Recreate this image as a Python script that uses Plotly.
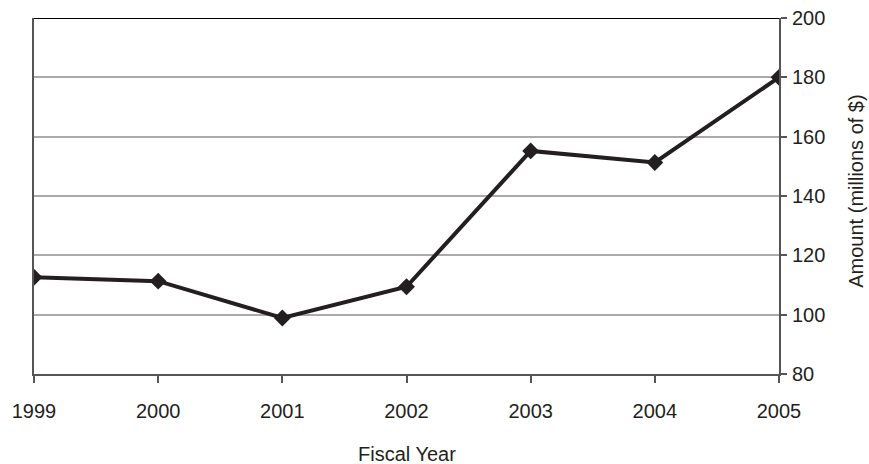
import plotly.graph_objects as go

# Fiscal-year spending, millions of dollars
years = ["1999", "2000", "2001", "2002", "2003", "2004", "2005"]
amounts = [112.6, 111.3, 98.9, 109.4, 155.2, 151.3, 180.0]
y_ticks = [80, 100, 120, 140, 160, 180, 200]

ink = "#231f20"
axis_col = "#555555"
fsize = 20

fig = go.Figure()
fig.add_trace(go.Scatter(
    x=list(range(len(years))),
    y=amounts,
    mode="lines+markers",
    line=dict(color=ink, width=4),
    marker=dict(symbol="diamond", size=13, color=ink),
    showlegend=False,
))

fig.update_layout(
    width=869, height=464,
    margin=dict(l=34, r=90, t=18, b=90),
    paper_bgcolor="white",
    plot_bgcolor="white",
    font=dict(family="Liberation Sans, Arial, sans-serif", size=fsize, color=ink),
    xaxis=dict(
        range=[0, len(years) - 1],
        tickmode="array",
        tickvals=list(range(len(years))),
        ticktext=years,
        showgrid=False,
        zeroline=False,
        showline=True, linecolor=axis_col, linewidth=2,
        ticks="outside", ticklen=7, tickwidth=1.5, tickcolor=axis_col,
        ticklabelstandoff=11,
        tickfont=dict(size=fsize),
        automargin=False,
    ),
    yaxis=dict(
        side="right",
        range=[80, 200],
        tickvals=y_ticks,
        showgrid=True, gridcolor="#aaaaaa", gridwidth=1.5,
        zeroline=False,
        showline=True, linecolor=axis_col, linewidth=2,
        mirror=True,
        ticks="outside", ticklen=6, tickwidth=1.5, tickcolor=axis_col,
        ticklabelstandoff=1,
        tickfont=dict(size=fsize),
        automargin=False,
    ),
    shapes=[dict(type="line", xref="paper", yref="y", x0=0, x1=1, y0=200, y1=200,
                 line=dict(color="black", width=2), layer="above")],
    annotations=[
        dict(text="Fiscal Year", xref="paper", yref="paper", x=0.5, y=-0.2245,
             xanchor="center", yanchor="middle",
             showarrow=False, font=dict(size=fsize)),
        dict(text="Amount (millions of $)", xref="paper", yref="paper", x=1.103, y=0.514,
             xanchor="center", yanchor="middle", textangle=-90,
             showarrow=False, font=dict(size=fsize)),
    ],
)

fig.write_html("out.html")
